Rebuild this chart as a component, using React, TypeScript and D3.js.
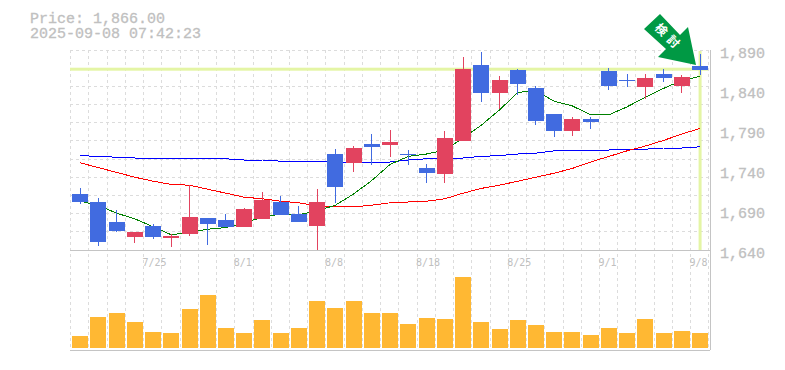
import React from 'react';
import * as d3 from 'd3';

const titlePrice = 'Price: 1,866.00';
const titleTime = '2025-09-08 07:42:23';
const lastPrice = 1866;
const priceTicks = [1890, 1840, 1790, 1740, 1690, 1640];
const dateLabels: [number, string][] = [[4, '7/25'], [9, '8/1'], [14, '8/8'], [19, '8/18'], [24, '8/25'], [29, '9/1'], [34, '9/8']];
const badgeText = ['検', '討'];

const opens = [1710, 1700, 1675, 1656.25, 1670, 1655, 1660, 1680, 1677.5, 1668.75, 1678.75, 1700, 1685, 1670, 1760, 1748.75, 1772.5, 1771.25, 1760, 1742.5, 1735, 1776.25, 1871.25, 1836.25, 1865, 1842.5, 1810, 1788.75, 1803.75, 1863.75, 1852.5, 1843.75, 1860, 1845, 1870];
const highs = [1717.5, 1705, 1690, 1662.5, 1672.5, 1660, 1721.25, 1680, 1685, 1692.5, 1712.5, 1707.5, 1695, 1716.25, 1766.25, 1770, 1785, 1790, 1765, 1747.5, 1788.75, 1881.25, 1887.5, 1857.5, 1866.25, 1845, 1810, 1806.25, 1806.25, 1867.5, 1860, 1860, 1866.25, 1858.75, 1885];
const lows = [1697.5, 1645, 1662.5, 1648.75, 1653.75, 1643.75, 1657.5, 1646.25, 1668.75, 1668.75, 1678.75, 1683.75, 1675, 1640, 1698.75, 1737.5, 1746.25, 1756.25, 1746.25, 1723.75, 1723.75, 1776.25, 1825, 1816.25, 1833.75, 1796.25, 1781.25, 1782.5, 1791.25, 1840, 1843.75, 1828.75, 1850, 1836.25, 1858.75];
const closes = [1700, 1650, 1663.75, 1662.5, 1656.25, 1657.5, 1681.25, 1672.5, 1668.75, 1691.25, 1702.5, 1683.75, 1675, 1700, 1718.75, 1767.5, 1768.75, 1775, 1758.75, 1736.25, 1780, 1866.25, 1836.25, 1852.5, 1847.5, 1801.25, 1788.75, 1803.75, 1800, 1845, 1851.25, 1855, 1855, 1856.25, 1865];

const maShort = [1701, 1696, 1686, 1679, 1669, 1659, 1662, 1666, 1668, 1674, 1681, 1685, 1684, 1689, 1696, 1710, 1727, 1747, 1757, 1760, 1765, 1780, 1796, 1815, 1837, 1839, 1826, 1820, 1809, 1809, 1819, 1831, 1842, 1852, 1857];
const maMid = [1749, 1743, 1737, 1731, 1726, 1722, 1721, 1716, 1711, 1706, 1704, 1701, 1699, 1695, 1694, 1694, 1696, 1699, 1700, 1701, 1704, 1711, 1717, 1721, 1726, 1731, 1736, 1742, 1750, 1757, 1764, 1770, 1777, 1785, 1792];
const maLong = [1758, 1757, 1756, 1755, 1755, 1755, 1755, 1755, 1754, 1752.5, 1752.5, 1751, 1751, 1751, 1750, 1750, 1750, 1750, 1752.5, 1754, 1755, 1755, 1757, 1758, 1760, 1761, 1764, 1765, 1765, 1765, 1766, 1766, 1767.5, 1767.5, 1769];
const volumes = [12, 31, 35, 26, 16, 15, 39, 53, 20, 15, 28, 15, 20, 47, 40, 47, 35, 35, 24, 30, 29, 71, 26, 19, 28, 23, 16, 16, 13, 20, 15, 29, 15, 17, 15];

const indices = d3.range(opens.length);
const x = d3.scaleBand<number>().domain(indices).range([71, 709.2]).paddingInner(0.122).paddingOuter(0.061);
const cx = (i: number) => (x(i) as number) + x.bandwidth() / 2;
const y = d3.scaleLinear().domain([1640, 1890]).range([250, 50]);
const yVol = d3.scaleLinear().domain([0, 100]).range([348, 248]);
const hGrid = d3.range(0, 12).map((k) => 50 + (k * 200) / 11);
const vGrid = d3.range(0, 36).map((k) => 70.7 + k * 18.235);
const lineOf = d3.line<number>().x((_, i) => cx(i)).y((d) => y(d));

const UP = '#e2435f';
const DOWN = '#416be0';
const GRAY = '#c4c4c4';
const mono = '"Liberation Mono", monospace';
const monoSmall = '"DejaVu Sans Mono", monospace';

export default function App() {
  const last = indices.length - 1;
  return (
    <svg width={785} height={370} style={{ position: 'absolute', left: 0, top: 0, background: '#fff' }}>
      <g stroke="#dcdcdc" strokeDasharray="3 3" shapeRendering="crispEdges">
        {hGrid.map((g) => <line key={g} x1={70} x2={709} y1={g} y2={g} />)}
        {vGrid.map((g) => <line key={g} x1={g} x2={g} y1={50} y2={350} />)}
      </g>
      <g stroke={GRAY} shapeRendering="crispEdges">
        <line x1={70} x2={710} y1={250} y2={250} />
        <line x1={70} x2={710} y1={350} y2={350} />
        <line x1={710} x2={710} y1={50} y2={350} />
      </g>
      <rect x={70} y={y(lastPrice) - 1.5} width={638} height={3} fill="#e4f5a5" />
      <rect x={cx(last) - 1.5} y={51} width={3} height={199} fill="#e4f5a5" />
      <g fill="none" strokeWidth={1} shapeRendering="crispEdges">
        <path d={lineOf(maLong) as string} stroke="#0000ff" />
        <path d={lineOf(maMid) as string} stroke="#ff0000" />
        <path d={lineOf(maShort) as string} stroke="#008000" />
      </g>
      <g shapeRendering="crispEdges">
        {indices.map((i) => {
          const color = closes[i] >= opens[i] ? UP : DOWN;
          const top = y(Math.max(opens[i], closes[i]));
          const bot = y(Math.min(opens[i], closes[i]));
          return (
            <g key={i}>
              <rect x={cx(i) - 0.5} y={y(highs[i])} width={1} height={y(lows[i]) - y(highs[i])} fill={color} />
              <rect x={x(i)} y={top} width={x.bandwidth()} height={Math.max(1, bot - top)} fill={color} />
            </g>
          );
        })}
      </g>
      <g fill="#ffb833" shapeRendering="crispEdges">
        {volumes.map((v, i) => <rect key={i} x={x(i)} y={yVol(v)} width={x.bandwidth()} height={yVol(0) - yVol(v)} />)}
      </g>
      <g fontFamily={mono} fontSize={15} fill="#c0c0c0" stroke="#c0c0c0" strokeWidth={0.3}>
        <text x={30} y={23}>{titlePrice}</text>
        <text x={30} y={38}>{titleTime}</text>
        {priceTicks.map((p) => <text key={p} x={720} y={y(p) + 8}>{d3.format(',')(p)}</text>)}
      </g>
      <g fontFamily={monoSmall} fontSize={10} fill="#c0c0c0">
        {dateLabels.map(([i, s]) => <text key={s} x={cx(i) - 10.5} y={266}>{s}</text>)}
      </g>
      <path d="M696,65 L658,57 L666,49 L644,29 L660,14 L680,35 L688,27 Z" fill="#009944" />
      <g fontFamily='"Noto Sans CJK JP"' fontSize={12} fontWeight={700} fill="#fff" textAnchor="middle">
        <text transform="translate(661,30) rotate(45)" y={4}>{badgeText[0]}</text>
        <text transform="translate(673,42) rotate(45)" y={4}>{badgeText[1]}</text>
      </g>
    </svg>
  );
}
